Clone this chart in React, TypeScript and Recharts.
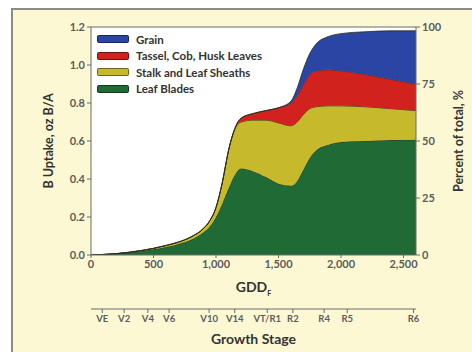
import React from 'react';
import {
  ComposedChart,
  Area,
  Line,
  XAxis,
  YAxis,
  CartesianGrid,
  ReferenceLine,
  Legend,
  Label,
} from 'recharts';

// growing degree days (x) and B uptake per plant part, oz B/A (stacked)
const gdd = [0, 100, 200, 300, 400, 500, 600, 700, 800, 900, 950, 1000, 1050, 1100, 1150, 1200, 1300, 1400, 1500, 1600, 1650, 1700, 1750, 1800, 1900, 2000, 2200, 2400, 2600];
const leafBlades = [0, 0.002, 0.006, 0.012, 0.02, 0.03, 0.042, 0.058, 0.08, 0.12, 0.15, 0.2, 0.27, 0.35, 0.42, 0.455, 0.44, 0.41, 0.375, 0.365, 0.39, 0.45, 0.51, 0.55, 0.58, 0.595, 0.6, 0.605, 0.607];
const stalkSheaths = [0, 0.001, 0.001, 0.002, 0.003, 0.005, 0.008, 0.01, 0.015, 0.02, 0.03, 0.05, 0.11, 0.2, 0.24, 0.245, 0.27, 0.3, 0.32, 0.315, 0.31, 0.29, 0.26, 0.23, 0.205, 0.19, 0.18, 0.165, 0.153];
const tasselCobHusk = [0, 0, 0, 0, 0, 0, 0, 0, 0, 0, 0, 0, 0, 0, 0.005, 0.02, 0.035, 0.05, 0.08, 0.12, 0.14, 0.16, 0.18, 0.19, 0.19, 0.185, 0.17, 0.155, 0.14];
const grain = [0, 0, 0, 0, 0, 0, 0, 0, 0, 0, 0, 0, 0, 0, 0, 0, 0, 0, 0, 0.01, 0.04, 0.08, 0.11, 0.14, 0.175, 0.195, 0.225, 0.255, 0.28];

const gddTicks = [0, 500, 1000, 1500, 2000, 2500];
const uptakeTicks = [0, 0.2, 0.4, 0.6, 0.8, 1.0, 1.2];
const percentTicks = [0, 25, 50, 75, 100];

const stageLabels = ['VE', 'V2', 'V4', 'V6', 'V10', 'V14', 'VT/R1', 'R2', 'R4', 'R5', 'R6'];
const stageGdd = [90, 265, 455, 625, 945, 1150, 1410, 1615, 1865, 2050, 2580];

const seriesKeys = ['leaf', 'stalk', 'tassel', 'grain'];
const seriesNames = ['Leaf Blades', 'Stalk and Leaf Sheaths', 'Tassel, Cob, Husk Leaves', 'Grain'];
const seriesColors = ['#1f6a35', '#c6b92c', '#d1221e', '#2a45a3'];

const data = gdd.map((g, i) => ({
  gdd: g,
  leaf: leafBlades[i],
  stalk: stalkSheaths[i],
  tassel: tasselCobHusk[i],
  grain: grain[i],
  // share of the final total, only used to bind the right-hand axis
  pct: ((leafBlades[i] + stalkSheaths[i] + tasselCobHusk[i] + grain[i]) / 1.2) * 100,
}));

const FONT = 'Lato, "Open Sans", sans-serif';
const tickStyle = { fontSize: 11, fontWeight: 700, fill: '#5c5c5c', fontFamily: FONT };

const LegendBox = () => (
  <div style={{ fontFamily: FONT }}>
    {[3, 2, 1, 0].map((i) => (
      <div key={i} style={{ display: 'flex', alignItems: 'center', height: 16.5 }}>
        <span
          style={{
            width: 30,
            height: 6,
            background: seriesColors[i],
            border: '1px solid rgba(0,0,0,0.45)',
            borderRadius: 2,
            marginRight: 7,
          }}
        />
        <span style={{ fontSize: 11.5, fontWeight: 700, color: '#333' }}>{seriesNames[i]}</span>
      </div>
    ))}
  </div>
);

export default function App() {
  return (
    <div style={{ position: 'absolute', left: 0, top: 0, width: 472, height: 352, background: '#fff', overflow: 'hidden' }}>
      <div
        style={{
          position: 'absolute',
          left: 11,
          top: 8,
          width: 480,
          height: 380,
          background: '#fcf8d4',
          border: '2px solid #8c8c84',
        }}
      />
      <div style={{ position: 'absolute', left: 0, top: 0 }}>
        <ComposedChart width={472} height={352} data={data} margin={{ top: 27, right: 0, bottom: 7, left: 0 }}>
          <CartesianGrid horizontal={false} vertical={false} fill="#fff" />
          <XAxis
            type="number"
            dataKey="gdd"
            domain={[0, 2600]}
            ticks={gddTicks}
            tickFormatter={(v: number) => v.toLocaleString('en-US')}
            tick={tickStyle}
            tickSize={3}
            height={54}
            stroke="#6a6a6a"
            allowDataOverflow
          >
            <Label
              content={(props: any) => {
                const vb = props.viewBox;
                return (
                  <text
                    x={vb.x + vb.width / 2}
                    y={vb.y + 37}
                    textAnchor="middle"
                    fontFamily={FONT}
                    fontWeight={700}
                    fontSize={14}
                    fill="#333"
                  >
                    GDD
                    <tspan fontSize={7} dy={4}>F</tspan>
                  </text>
                );
              }}
            />
          </XAxis>
          <XAxis
            xAxisId="stage"
            type="number"
            dataKey="gdd"
            domain={[0, 2600]}
            ticks={stageGdd}
            tickFormatter={(v: number) => stageLabels[stageGdd.indexOf(v)] ?? ''}
            tick={{ ...tickStyle, fontSize: 9.5 }}
            tickSize={4}
            height={36}
            stroke="#6a6a6a"
            interval={0}
            allowDataOverflow
          >
            <Label
              content={(props: any) => {
                const vb = props.viewBox;
                return (
                  <text
                    x={vb.x + vb.width / 2}
                    y={vb.y + 35}
                    textAnchor="middle"
                    fontFamily={FONT}
                    fontWeight={700}
                    fontSize={14}
                    fill="#333"
                  >
                    Growth Stage
                  </text>
                );
              }}
            />
          </XAxis>
          <YAxis
            yAxisId="left"
            domain={[0, 1.2]}
            ticks={uptakeTicks}
            tickFormatter={(v: number) => v.toFixed(1)}
            tick={tickStyle}
            tickSize={4}
            width={91}
            stroke="#6a6a6a"
            allowDataOverflow
          >
            <Label
              content={(props: any) => {
                const vb = props.viewBox;
                const cx = vb.x + 48;
                const cy = vb.y + vb.height / 2;
                return (
                  <text
                    x={cx}
                    y={cy}
                    transform={`rotate(-90 ${cx} ${cy})`}
                    textAnchor="middle"
                    dominantBaseline="central"
                    fontFamily={FONT}
                    fontWeight={700}
                    fontSize={12.5}
                    fill="#333"
                  >
                    B Uptake, oz B/A
                  </text>
                );
              }}
            />
          </YAxis>
          <YAxis
            yAxisId="pct"
            orientation="right"
            domain={[0, 100]}
            ticks={percentTicks}
            tick={tickStyle}
            tickSize={4}
            width={56}
            stroke="#6a6a6a"
            allowDataOverflow
          >
            <Label
              content={(props: any) => {
                const vb = props.viewBox;
                const cx = vb.x + 42;
                const cy = vb.y + vb.height / 2;
                return (
                  <text
                    x={cx}
                    y={cy}
                    transform={`rotate(-90 ${cx} ${cy})`}
                    textAnchor="middle"
                    dominantBaseline="central"
                    fontFamily={FONT}
                    fontWeight={700}
                    fontSize={12.5}
                    fill="#333"
                  >
                    Percent of total, %
                  </text>
                );
              }}
            />
          </YAxis>
          {seriesKeys.map((k, i) => (
            <Area
              key={k}
              yAxisId="left"
              type="monotone"
              dataKey={k}
              name={seriesNames[i]}
              stackId="b"
              fill={seriesColors[i]}
              fillOpacity={1}
              stroke="#2a2a1a"
              strokeWidth={0.8}
              isAnimationActive={false}
            />
          ))}
          <Line
            xAxisId="stage"
            yAxisId="pct"
            dataKey="pct"
            stroke="none"
            dot={false}
            activeDot={false}
            legendType="none"
            isAnimationActive={false}
          />
          <ReferenceLine yAxisId="left" y={1.2} stroke="#6a6a6a" />
          <Legend
            layout="vertical"
            align="center"
            verticalAlign="middle"
            content={() => <LegendBox />}
            wrapperStyle={{ left: 97, top: 31, width: 200, height: 70 }}
          />
        </ComposedChart>
      </div>
    </div>
  );
}
